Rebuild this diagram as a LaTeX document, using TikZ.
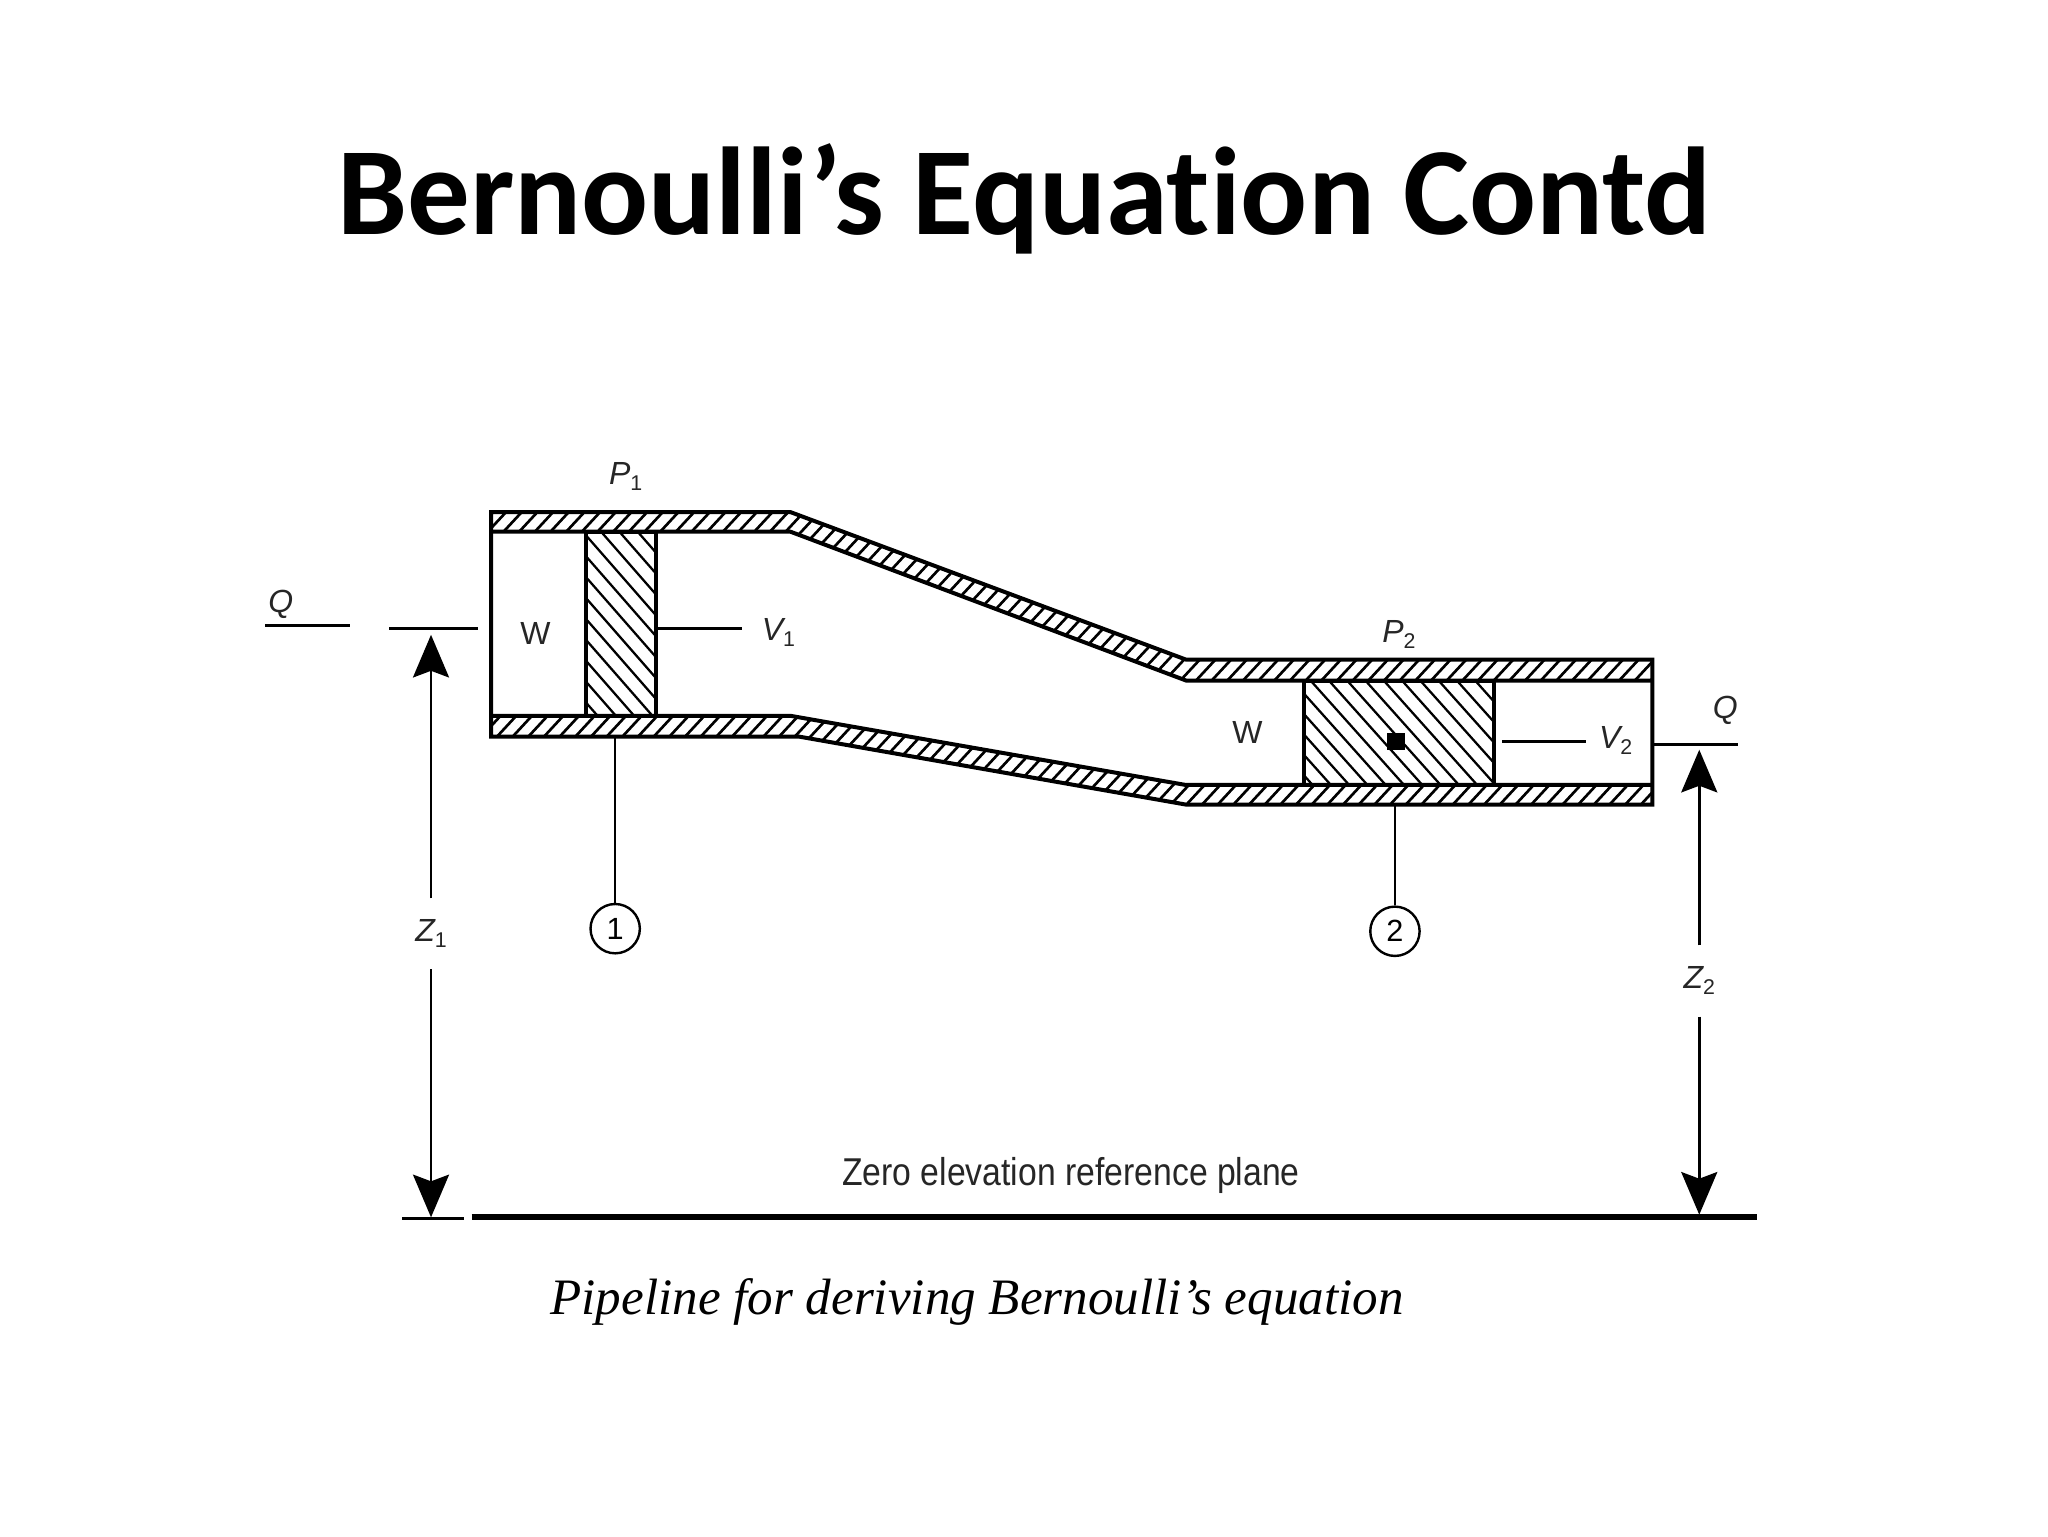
\documentclass[tikz,border=0pt]{standalone}
\usepackage{fontspec}
\setmainfont{Liberation Sans}
\newfontfamily\titlefont[Ligatures=NoCommon]{Carlito}
\newfontfamily\capfont{Liberation Serif}
\usetikzlibrary{arrows.meta}
\tikzset{
  wall/.style={line width=3pt,line join=miter},
  hatchw/.style={line width=2pt},
  hatchp/.style={line width=1.7pt},
  thinline/.style={line width=1.9pt},
  levelline/.style={line width=2.2pt},
  dimline/.style={line width=2pt,-{Stealth[length=32pt,width=27pt,inset=5pt]}},
  lab/.style={inner sep=0pt,font=\fontsize{24}{26}\selectfont,text=black!85},
  circ/.style={draw,circle,line width=1.8pt,minimum size=37pt,inner sep=0pt,font=\fontsize{23}{24}\selectfont},
  gapnode/.style={inner sep=0pt,minimum width=20pt,minimum height=53pt,font=\fontsize{24}{26}\selectfont,text=black!85}
}
\newcommand{\pvar}[2]{{\itshape #1}\raisebox{-0.35ex}{\fontsize{16}{17}\selectfont #2}}
\begin{document}
\begin{tikzpicture}[x=0.97959pt,y=-0.97959pt]
\useasboundingbox (0,0) rectangle (1568,1176);
\fill[white] (0,0) rectangle (1568,1176);

% hatching of the pipe walls
\begin{scope}
  \clip (376,392) -- (605,392) -- (908,505) -- (1265,505) -- (1265,521) -- (908,521) -- (605,407) -- (376,407) -- cycle;
  \foreach \k in {240,252,...,1280} \draw[hatchw] (\k,525) -- ++(130,-140);
\end{scope}
\begin{scope}
  \clip (376,548) -- (605,548) -- (908,601) -- (1265,601) -- (1265,616) -- (908,616) -- (612,564) -- (376,564) -- cycle;
  \foreach \k in {300,312,...,1280} \draw[hatchw] (\k,625) -- ++(100,-108);
\end{scope}
% hatching of the fluid elements
\begin{scope}
  \clip (449,407) rectangle (502,548);
  \foreach \k in {300,314,...,520} \draw[hatchp] (\k,400) -- ++(140,160);
\end{scope}
\begin{scope}
  \clip (998,521) rectangle (1144,601);
  \foreach \k in {900,914,...,1150} \draw[hatchp] (\k,515) -- ++(85,95);
\end{scope}

% pipe outlines
\draw[wall] (376,392) -- (605,392) -- (908,505) -- (1265,505) -- (1265,616) -- (908,616) -- (612,564) -- (376,564) -- cycle;
\draw[wall] (376,407) -- (605,407) -- (908,521) -- (1265,521);
\draw[wall] (376,548) -- (605,548) -- (908,601) -- (1265,601);
\draw[wall] (449,407) rectangle (502,548);
\draw[wall] (998,521) rectangle (1144,601);
\fill (1062,561) rectangle (1076,574);

% labels
\node[lab] (p1) at (479,365) {\pvar{P}{1}};
\node[lab] (p2) at (1071,486) {\pvar{P}{2}};
\node[lab] (v1) at (596,484) {\pvar{V}{1}};
\node[lab] (v2) at (1237,567) {\pvar{V}{2}};
\node[lab] (w1) at (410,485) {W};
\node[lab] (w2) at (955,561) {W};
\node[lab] (q1) at (215,463) {\itshape Q};
\node[lab] (q2) at (1321,544) {\itshape Q};
\node[gapnode] (z1) at (330,715) {\raisebox{4pt}{\pvar{Z}{1}}};
\node[gapnode] (z2) at (1301,751) {\pvar{Z}{2}};
\node[lab,font=\fontsize{25.3}{30}\selectfont] (zero) at (820,900) {\scalebox{1}[1.15]{Zero elevation reference plane}};
\node[inner sep=0pt,font=\capfont\itshape\fontsize{38.3}{40}\selectfont] (cap) at (748,997) {Pipeline for deriving Bernoulli’s equation};
\node[inner sep=0pt,font=\titlefont\bfseries\fontsize{93.7}{100}\selectfont] (title) at (784,152) {Bernoulli’s Equation Contd};

% section circles and leaders
\node[circ] (c1) at (471,711) {1};
\node[circ] (c2) at (1068,713) {2};
\coordinate (s1) at (471,564);
\coordinate (s2) at (1068,616);
\draw[thinline] (s1) -- (c1);
\draw[thinline] (s2) -- (c2);

% level lines
\coordinate (qa) at (203,479); \coordinate (qb) at (268,479);
\coordinate (qc) at (298,481); \coordinate (qd) at (366,481);
\coordinate (va) at (503,481); \coordinate (vb) at (568,481);
\coordinate (vc) at (1150,568); \coordinate (vd) at (1214,568);
\coordinate (qe) at (1265,570); \coordinate (qf) at (1331,570);
\draw[levelline] (qa) -- (qb);
\draw[levelline] (qc) -- (qd);
\draw[levelline] (va) -- (vb);
\draw[levelline] (vc) -- (vd);
\draw[levelline] (qe) -- (qf);

% reference plane
\coordinate (ba) at (308,933); \coordinate (bb) at (355,933);
\coordinate (bc) at (361,932); \coordinate (bd) at (1345,932);
\draw[levelline] (ba) -- (bb);
\draw[line width=4.5pt] (bc) -- (bd);

% dimension arrows
\coordinate (t1) at (330,486);
\coordinate (t1b) at (330,932);
\coordinate (t2) at (1301,574);
\coordinate (t2b) at (1301,930);
\draw[dimline] (z1) -- (t1);
\draw[dimline] (z1) -- (t1b);
\draw[dimline] (z2) -- (t2);
\draw[dimline] (z2) -- (t2b);
\end{tikzpicture}
\end{document}
